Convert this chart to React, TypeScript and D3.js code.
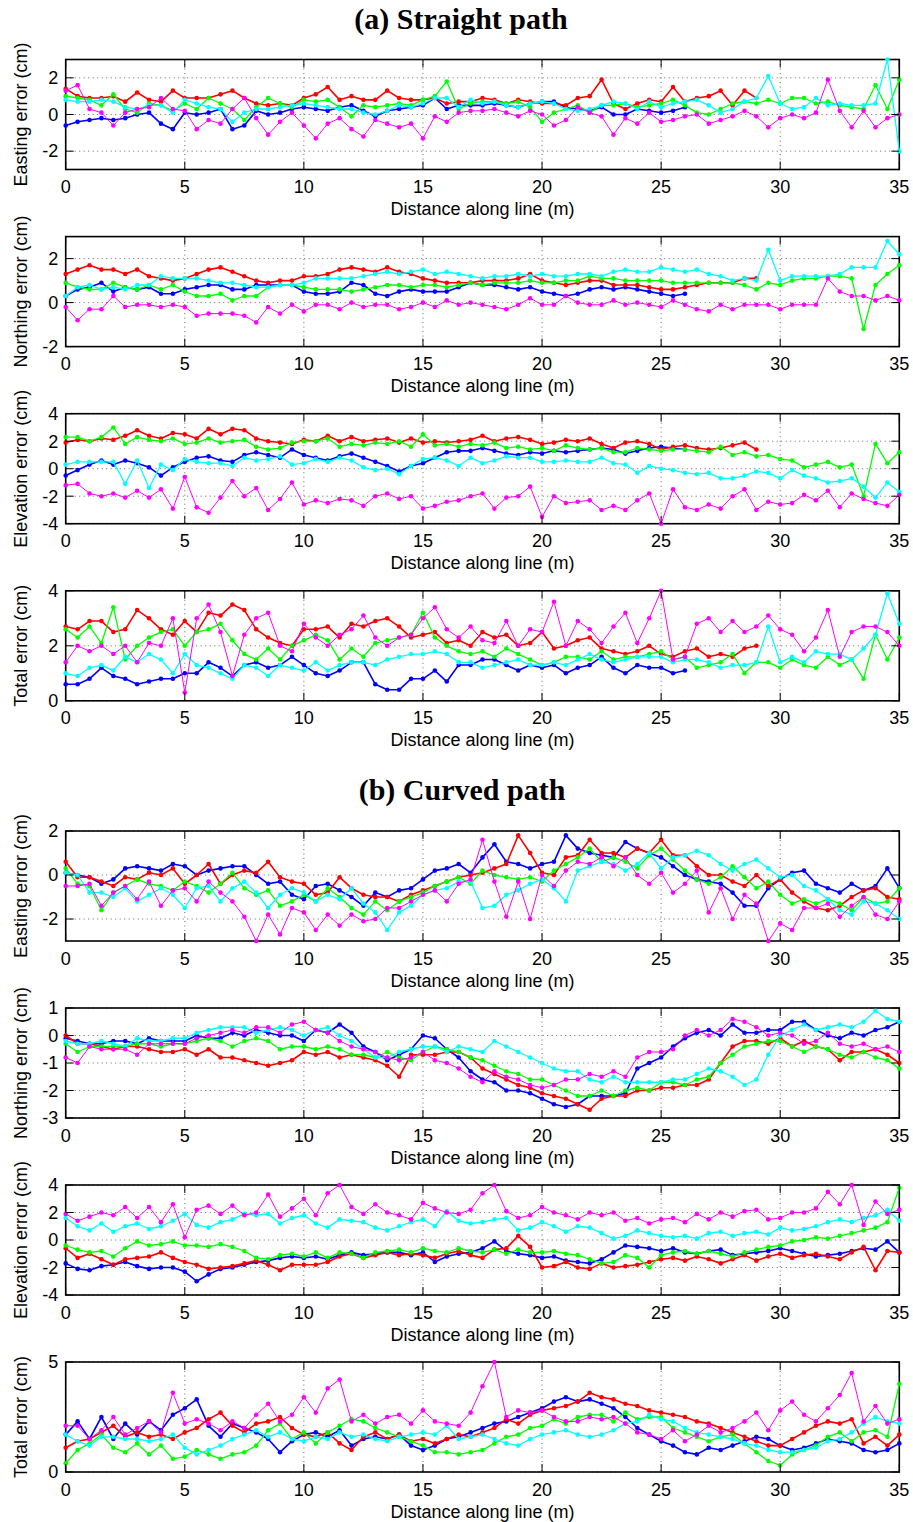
import React from "react";
import * as d3 from "d3";

// ---------- shared axis data ----------
const distanceTicks = [0, 5, 10, 15, 20, 25, 30, 35];
const SAMPLE_STEP = 0.5; // metres between samples
const xLabelText = "Distance along line (m)";
const titleA = "(a) Straight path";
const titleB = "(b) Curved path";

// ---------- (a) Straight path ----------
// Easting
const aEastBlue = [-0.6, -0.4, -0.3, -0.2, -0.3, -0.2, 0.0, 0.1, -0.5, -0.8,
  0.1, 0.0, 0.1, 0.3, -0.8, -0.6, 0.2, 0.0, 0.1, 0.3,
  0.4, 0.3, 0.2, 0.4, 0.5, 0.2, -0.1, 0.2, 0.3, 0.4,
  0.5, 0.9, 0.3, 0.5, 0.5, 0.5, 0.6, 0.5, 0.4, 0.6,
  0.7, 0.7, 0.4, 0.3, 0.2, 0.4, 0.0, 0.0, 0.3, 0.2,
  0.1, 0.2, 0.4];
const aEastRed = [1.4, 1.0, 0.9, 0.9, 1.0, 0.7, 1.2, 0.8, 0.7, 1.3,
  0.9, 0.9, 0.9, 1.1, 1.3, 0.9, 0.6, 0.5, 0.6, 0.5,
  0.9, 1.1, 1.5, 0.8, 1.0, 0.8, 0.8, 1.3, 0.9, 0.8,
  0.8, 0.9, 0.6, 0.7, 0.7, 0.9, 0.8, 0.6, 0.8, 0.7,
  0.6, 0.6, 0.5, 0.9, 1.0, 1.9, 0.6, 0.3, 0.6, 0.8,
  0.7, 1.5, 0.7, 0.9, 1.0, 1.3, 0.5, 1.3, 0.9];
const aEastGreen = [1.0, 0.9, 0.8, 0.5, 1.1, 0.3, 0.1, 0.6, 0.5, 0.2,
  0.6, 0.3, 0.9, 0.6, 0.3, -0.3, 0.4, 0.9, 0.6, 0.4,
  0.8, 0.7, 0.8, 0.4, -0.1, 0.5, 0.4, 0.5, 0.6, 0.5,
  0.8, 1.0, 1.8, 0.3, 0.6, 0.7, 0.7, 0.6, 0.7, 0.4,
  -0.4, 0.1, 0.3, 0.5, 0.1, 0.5, 0.5, 0.6, 0.4, 0.5,
  0.6, 0.8, 0.5, 0.1, 0.0, 0.3, 0.6, 0.7, 0.6, 0.8,
  0.6, 0.9, 0.9, 0.6, 0.7, 0.5, 0.4, 0.3, 1.6, 0.3,
  1.9];
const aEastCyan = [0.8, 0.7, 0.7, 0.8, 0.7, 0.4, 0.3, 0.5, 0.5, 0.1,
  0.8, 0.6, 0.4, 0.3, -0.4, 0.1, 0.3, 0.3, 0.4, 0.5,
  0.6, 0.5, 0.4, 0.3, 0.3, 0.1, 0.0, 0.2, 0.5, 0.4,
  0.6, 0.9, 0.9, 0.4, 0.8, 0.6, 0.7, 0.5, 0.4, 0.6,
  0.7, 0.6, 0.3, 0.2, 0.3, 0.5, 0.7, 0.6, 0.3, 0.7,
  0.4, 0.6, 0.7, 0.8, 0.5, 0.1, 0.3, 0.7, 0.9, 2.1,
  0.6, 0.3, 0.4, 0.9, 0.5, 0.6, 0.5, 0.5, 0.6, 3.0,
  -2.0];
const aEastMagenta = [1.3, 1.6, 0.3, 0.1, -0.6, 0.1, 0.3, 0.4, 0.9, 0.3,
  0.2, -0.8, -0.3, -0.5, 0.3, 0.9, -0.2, -1.1, -0.4, 0.1,
  -0.6, -1.3, -0.5, -0.2, -0.8, -1.2, -0.3, -0.5, -0.7, -0.5,
  -1.3, -0.1, -0.4, 0.1, 0.2, 0.2, 0.3, 0.1, -0.1, 0.2,
  0.0, -0.6, -0.3, 0.4, 0.1, -0.1, -1.1, -0.2, -0.5, 0.1,
  -0.4, -0.3, -0.1, 0.0, -0.5, -0.3, -0.1, 0.2, -0.1, -0.7,
  -0.2, 0.0, -0.2, 0.1, 1.9, 0.2, -0.7, 0.2, -0.7, -0.2,
  0.0];

// Northing
const aNorthBlue = [0.3, 0.6, 0.7, 0.9, 0.5, 0.7, 0.6, 0.7, 0.4, 0.4,
  0.6, 0.7, 0.8, 0.8, 0.6, 0.6, 0.8, 0.8, 0.8, 0.8,
  0.5, 0.4, 0.4, 0.5, 0.9, 0.8, 0.4, 0.3, 0.5, 0.6,
  0.5, 0.5, 0.5, 0.7, 0.9, 0.8, 0.8, 0.7, 0.6, 0.7,
  0.5, 0.4, 0.3, 0.4, 0.6, 0.7, 0.6, 0.7, 0.6, 0.5,
  0.4, 0.3, 0.4];
const aNorthRed = [1.3, 1.5, 1.7, 1.5, 1.5, 1.3, 1.5, 1.2, 1.1, 1.0,
  1.1, 1.3, 1.5, 1.6, 1.4, 1.2, 1.0, 0.9, 1.0, 1.0,
  1.2, 1.2, 1.3, 1.5, 1.6, 1.5, 1.4, 1.6, 1.4, 1.3,
  1.1, 1.0, 0.9, 0.9, 0.9, 1.0, 1.0, 1.0, 1.1, 1.3,
  1.0, 0.9, 0.8, 0.9, 1.0, 1.0, 0.8, 0.8, 0.8, 0.7,
  0.6, 0.6, 0.7, 0.8, 0.9, 0.9, 0.9, 1.1, 1.1];
const aNorthGreen = [0.9, 0.7, 0.6, 0.6, 0.9, 0.7, 0.6, 0.8, 0.6, 0.8,
  0.5, 0.3, 0.3, 0.4, 0.1, 0.3, 0.3, 0.7, 0.8, 0.8,
  0.7, 0.6, 0.6, 0.6, 0.5, 0.6, 0.7, 0.8, 0.8, 0.7,
  0.8, 0.8, 0.7, 0.8, 0.9, 0.8, 0.9, 0.9, 0.9, 1.0,
  0.9, 0.9, 1.0, 1.0, 1.2, 1.1, 1.1, 1.0, 1.0, 1.0,
  1.0, 0.9, 0.9, 0.9, 0.9, 0.9, 0.9, 0.8, 0.6, 0.9,
  0.8, 1.0, 1.1, 1.1, 1.2, 1.2, 1.1, -1.2, 0.8, 1.3,
  1.7];
const aNorthCyan = [0.3, 0.7, 0.8, 0.6, 0.7, 0.6, 0.8, 0.8, 1.2, 1.1,
  1.1, 1.1, 1.0, 0.9, 0.9, 0.8, 0.7, 0.7, 0.8, 0.8,
  0.9, 1.1, 1.1, 1.1, 1.1, 1.2, 1.3, 1.4, 1.3, 1.4,
  1.5, 1.3, 1.4, 1.3, 1.2, 1.1, 1.2, 1.2, 1.3, 1.2,
  1.3, 1.2, 1.2, 1.3, 1.3, 1.2, 1.4, 1.5, 1.4, 1.4,
  1.6, 1.5, 1.4, 1.5, 1.3, 1.2, 1.0, 1.1, 1.0, 2.4,
  1.0, 1.2, 1.2, 1.2, 1.2, 1.3, 1.6, 1.6, 1.6, 2.8,
  2.2];
const aNorthMagenta = [-0.2, -0.8, -0.3, -0.3, 0.3, -0.2, -0.1, -0.1, -0.2, -0.1,
  -0.2, -0.6, -0.5, -0.5, -0.5, -0.6, -0.9, -0.2, -0.5, -0.1,
  -0.4, -0.1, -0.1, -0.3, 0.0, -0.2, -0.1, -0.1, -0.3, -0.2,
  0.0, -0.2, 0.1, -0.1, 0.0, -0.1, -0.2, -0.3, -0.1, 0.2,
  -0.1, -0.1, 0.3, 0.0, -0.1, -0.1, 0.1, -0.1, 0.0, -0.1,
  -0.2, 0.1, -0.1, -0.3, -0.4, -0.1, -0.3, -0.1, -0.1, -0.1,
  -0.3, -0.1, -0.1, -0.1, 1.1, 0.5, 0.3, 0.3, 0.1, 0.3,
  0.1];

// Elevation
const aElevBlue = [-0.5, -0.1, 0.3, 0.6, 0.3, 0.6, 0.4, 0.1, -0.5, 0.1,
  0.5, 0.8, 0.9, 0.6, 0.5, 1.0, 1.2, 1.0, 0.8, 1.4,
  1.0, 0.8, 0.6, 0.9, 1.1, 0.8, 0.5, 0.2, -0.2, 0.2,
  0.4, 0.8, 1.2, 1.3, 1.3, 1.5, 1.3, 1.1, 1.0, 1.2,
  1.1, 1.3, 1.2, 1.3, 1.4, 1.5, 1.4, 1.1, 1.3, 1.5,
  1.6, 1.5, 1.4];
const aElevRed = [1.9, 2.1, 2.0, 2.2, 2.1, 2.4, 2.8, 2.4, 2.2, 2.6,
  2.5, 2.2, 2.9, 2.5, 2.9, 2.8, 2.2, 2.0, 1.9, 1.8,
  2.1, 2.0, 2.4, 2.0, 2.3, 2.0, 2.1, 2.2, 1.9, 2.2,
  1.9, 2.0, 1.9, 2.0, 2.1, 2.4, 2.0, 2.2, 2.3, 2.1,
  1.8, 1.9, 2.1, 2.0, 2.2, 1.8, 1.5, 1.9, 2.0, 1.8,
  1.4, 1.6, 1.7, 1.5, 1.4, 1.5, 1.7, 1.9, 1.4];
const aElevGreen = [2.3, 2.3, 2.0, 2.3, 3.0, 1.8, 2.3, 2.1, 2.0, 2.2,
  1.8, 1.9, 2.2, 1.9, 2.0, 2.1, 1.6, 1.4, 1.5, 1.9,
  2.0, 2.0, 2.2, 1.6, 1.8, 1.7, 1.9, 1.8, 2.0, 1.6,
  2.5, 1.7, 1.8, 1.6, 1.8, 1.7, 1.9, 1.5, 1.6, 1.4,
  1.5, 1.3, 1.7, 1.5, 1.4, 1.5, 1.2, 1.2, 1.5, 1.4,
  1.3, 1.4, 1.4, 1.3, 1.2, 1.6, 1.0, 1.2, 0.9, 1.0,
  0.7, 0.6, 0.1, 0.3, 0.5, 0.1, 0.3, -2.0, 1.8, 0.4,
  1.2];
const aElevCyan = [0.3, 0.5, 0.5, 0.5, 0.5, -1.1, 0.6, -1.4, 0.3, -0.1,
  0.7, 0.5, 0.4, 0.4, 0.2, 0.8, 0.6, 0.7, 0.9, 0.3,
  0.4, 0.7, 0.5, 0.8, 0.6, 0.1, -0.1, 0.0, -0.4, 0.2,
  0.7, 0.8, 0.6, 0.2, 0.8, 0.4, 0.6, 0.9, 0.8, 0.8,
  0.5, 0.5, 0.6, 0.5, 0.5, 0.8, 0.4, 0.3, -0.3, 0.2,
  0.0, -0.1, -0.3, -0.4, -0.3, -0.7, -0.7, -0.5, -0.2, -0.3,
  -0.7, -0.1, -0.5, -0.7, -1.0, -0.9, -0.7, -1.3, -2.1, -1.0,
  -1.7];
const aElevMagenta = [-1.2, -1.1, -1.8, -2.0, -1.8, -2.1, -1.6, -2.1, -1.5, -2.9,
  -0.6, -2.8, -3.2, -2.1, -0.9, -2.0, -1.4, -3.0, -2.2, -1.0,
  -2.6, -2.3, -2.5, -2.2, -2.3, -2.7, -2.0, -1.8, -2.2, -2.0,
  -2.9, -2.7, -2.4, -2.3, -2.0, -1.8, -2.9, -2.1, -2.0, -1.3,
  -3.5, -2.0, -2.5, -2.4, -2.3, -3.0, -2.7, -3.0, -2.3, -1.8,
  -4.0, -1.5, -2.8, -3.0, -2.6, -2.9, -2.0, -1.5, -3.0, -2.4,
  -2.6, -2.5, -1.9, -2.3, -1.6, -2.8, -1.8, -2.2, -2.5, -2.7,
  -1.9];

// Total
const aTotBlue = [0.6, 0.6, 0.8, 1.2, 0.9, 0.8, 0.6, 0.7, 0.8, 0.8,
  1.0, 1.0, 1.4, 1.2, 0.9, 1.3, 1.4, 1.2, 1.3, 1.6,
  1.3, 1.0, 0.9, 1.1, 1.4, 1.4, 0.6, 0.4, 0.4, 0.8,
  0.8, 1.1, 0.7, 1.3, 1.3, 1.5, 1.5, 1.3, 1.1, 1.3,
  1.2, 1.3, 1.0, 1.2, 1.3, 1.6, 1.2, 1.0, 1.3, 1.2,
  1.2, 1.0, 1.1];
const aTotRed = [2.7, 2.6, 2.9, 2.9, 2.5, 2.6, 3.3, 3.0, 2.6, 2.4,
  2.9, 2.5, 3.2, 3.1, 3.5, 3.3, 2.6, 2.3, 2.1, 2.0,
  2.6, 2.6, 2.7, 2.3, 2.8, 2.7, 2.9, 3.0, 2.7, 2.3,
  2.4, 2.5, 2.1, 2.2, 2.0, 2.5, 2.3, 2.4, 2.0, 2.1,
  2.5, 1.9, 2.0, 2.2, 2.3, 1.9, 1.8, 1.7, 1.8, 2.0,
  1.7, 1.6, 1.8, 1.9, 1.6, 1.7, 1.6, 1.9, 2.0];
const aTotGreen = [2.6, 2.3, 2.7, 2.1, 3.4, 1.5, 2.0, 2.3, 2.5, 2.6,
  2.0, 2.5, 2.6, 2.8, 2.2, 1.7, 1.5, 1.9, 1.5, 2.0,
  2.2, 2.4, 2.2, 1.5, 1.9, 1.6, 2.1, 2.2, 2.3, 2.4,
  3.2, 2.3, 2.0, 1.8, 1.7, 1.8, 1.6, 1.9, 1.7, 1.5,
  1.3, 1.4, 1.6, 1.6, 1.5, 1.8, 1.5, 1.6, 1.6, 1.7,
  1.8, 1.5, 1.6, 1.2, 1.3, 1.4, 1.7, 1.0, 1.4, 1.4,
  1.2, 1.5, 1.3, 1.2, 1.6, 1.3, 1.5, 0.8, 2.4, 1.5,
  2.3];
const aTotCyan = [1.0, 0.9, 1.2, 1.3, 1.1, 1.6, 1.4, 1.7, 1.5, 1.0,
  1.7, 1.3, 1.2, 1.0, 0.8, 1.3, 1.2, 0.9, 1.3, 1.2,
  1.1, 1.4, 1.1, 1.3, 1.4, 1.4, 1.3, 1.5, 1.6, 1.7,
  1.7, 1.8, 1.7, 1.4, 1.4, 1.2, 1.3, 1.4, 1.5, 1.3,
  1.3, 1.4, 1.3, 1.5, 1.7, 1.5, 1.4, 1.5, 1.6, 1.6,
  1.6, 1.4, 1.5, 1.5, 1.4, 1.2, 1.3, 1.3, 1.4, 2.7,
  1.4, 1.6, 1.4, 1.8, 1.7, 1.7, 1.5, 1.9, 2.4, 3.9,
  2.8];
const aTotMagenta = [1.4, 2.0, 1.8, 2.0, 1.7, 2.0, 1.4, 2.1, 2.0, 3.0,
  0.3, 3.0, 3.5, 2.5, 0.9, 2.4, 3.0, 3.2, 2.0, 1.8,
  2.8, 2.3, 2.0, 2.4, 2.6, 3.1, 2.3, 2.0, 2.3, 2.4,
  3.0, 3.4, 2.6, 2.3, 2.7, 2.2, 2.1, 2.9, 2.0, 2.6,
  2.5, 3.6, 2.0, 2.9, 2.6, 2.1, 2.7, 3.2, 2.1, 3.0,
  4.0, 1.5, 1.6, 2.8, 3.0, 2.5, 2.9, 2.5, 2.7, 3.1,
  2.6, 2.4, 1.8, 2.3, 3.3, 1.6, 2.5, 2.7, 2.7, 2.5,
  2.0];

// ---------- (b) Curved path ----------
// Easting
const bEastBlue = [0.1, 0.0, -0.1, -0.4, -0.2, 0.3, 0.4, 0.3, 0.2, 0.5,
  0.4, 0.0, 0.2, 0.3, 0.4, 0.4, 0.0, -0.4, -0.3, -0.9,
  -1.1, -0.5, -0.4, -0.7, -1.0, -1.4, -0.8, -1.0, -0.7, -0.6,
  -0.2, 0.2, 0.3, 0.5, 0.1, 0.8, 1.4, 0.6, 0.5, 0.3,
  0.5, 0.6, 1.8, 1.2, 1.0, 0.9, 0.8, 1.5, 1.2, 1.0,
  0.8, 0.4, 0.0, -0.2, -0.3, -0.4, -0.8, -1.4, -1.4, -0.6,
  -0.2, 0.1, 0.2, -0.4, -0.6, -0.8, -0.4, -0.7, -0.5, 0.3,
  -0.6];
const bEastRed = [0.6, -0.1, -0.1, -0.3, -0.5, -0.1, -0.2, 0.1, 0.0, 0.3,
  -0.4, 0.0, 0.5, -0.4, 0.0, 0.2, 0.1, 0.6, -0.1, -0.3,
  -0.4, -0.9, -0.8, -0.1, -0.6, -0.9, -1.0, -1.0, -1.2, -0.9,
  -0.7, -0.5, -0.3, -0.1, 0.0, 0.1, 0.3, 0.5, 1.8, 1.0,
  0.1, 0.0, 0.8, 0.9, 1.6, 1.0, 1.0, 0.8, 1.2, 1.0,
  1.6, 0.9, 0.9, 0.4, 0.0, 0.0, -0.3, -0.5, 0.0, -0.5,
  -0.2, -0.8, -1.2, -1.5, -1.6, -1.4, -1.0, -0.7, -0.6, -1.0,
  -1.1];
const bEastGreen = [0.3, -0.4, -0.5, -1.6, -0.8, -0.5, -0.2, -0.4, -0.5, -0.7,
  -0.3, -0.5, -0.8, -0.4, 0.1, -0.6, -0.9, -0.7, -1.4, -1.2,
  -0.9, -1.2, -0.6, -1.0, -1.5, -1.8, -1.2, -1.6, -1.2, -1.0,
  -0.8, -0.5, -0.3, -0.1, -0.4, 0.2, 0.0, -0.1, -0.2, -0.1,
  -0.3, 0.2, 0.5, 0.8, 1.2, 0.6, 0.8, 0.6, 0.3, 0.9,
  1.2, 0.7, 0.2, -0.2, -0.4, -0.1, 0.4, -0.1, -0.6, -0.3,
  -0.9, -1.3, -1.1, -1.3, -1.1, -1.3, -1.6, -1.0, -1.3, -1.2,
  -0.6];
const bEastCyan = [0.1, 0.0, -0.8, -0.8, -1.0, -0.6, -1.2, -0.9, -0.6, -0.9,
  -1.5, -0.6, -0.5, -1.2, -0.6, -0.3, -0.8, -1.5, -0.9, -0.6,
  -0.8, -1.2, -0.9, -1.1, -0.6, -1.3, -1.7, -2.5, -1.7, -1.4,
  -0.9, -0.7, -0.6, -0.3, -0.3, -1.5, -1.4, -0.9, -0.7, -0.4,
  -0.2, -0.6, -1.2, 0.2, 0.4, 0.6, 0.5, 0.2, 0.5, 1.0,
  0.3, 0.8, 0.9, 1.1, 0.9, 0.5, 0.2, 0.5, 0.7, 0.3,
  -0.1, 0.0, -0.5, -0.7, -1.1, -1.6, -1.8, -1.2, -1.3, -1.6,
  -2.0];
const bEastMagenta = [-0.5, -0.5, -0.4, -1.4, -0.8, -0.5, -1.1, -0.3, -1.4, -0.7,
  -0.6, -1.2, -0.3, -0.8, -1.2, -1.9, -3.0, -1.8, -2.7, -1.5,
  -1.7, -2.5, -1.8, -2.3, -1.8, -2.1, -2.0, -1.5, -1.5, -1.2,
  -0.9, -0.7, -1.2, -0.4, -0.2, 1.6, -0.3, -1.9, -0.3, -2.0,
  0.0, -0.5, 0.2, 0.6, 0.5, 0.8, 0.4, 0.8, 0.0, -0.4,
  0.1, -0.8, -0.4, 0.2, -1.7, -0.6, -2.0, -0.9, -1.3, -3.0,
  -2.2, -2.5, -1.5, -1.5, -1.3, -1.9, -1.4, -1.0, -1.8, -2.0,
  -1.2];

// Northing
const bNorthBlue = [-0.1, -0.2, -0.3, -0.3, -0.2, -0.2, -0.3, -0.1, -0.2, -0.2,
  -0.2, 0.0, -0.1, -0.1, 0.1, 0.0, 0.2, 0.1, 0.0, 0.0,
  -0.2, 0.2, 0.1, 0.4, 0.1, -0.4, -0.6, -0.9, -0.7, -0.5,
  0.0, -0.1, -0.5, -0.8, -1.3, -1.6, -1.7, -2.0, -2.0, -2.1,
  -2.3, -2.5, -2.6, -2.5, -2.2, -2.2, -2.2, -2.1, -1.2, -1.0,
  -0.8, -0.4, -0.1, 0.1, 0.2, 0.0, 0.4, 0.1, 0.1, 0.2,
  0.2, 0.5, 0.5, 0.2, 0.0, -0.1, 0.1, 0.0, 0.2, 0.3,
  0.5];
const bNorthRed = [0.0, -0.3, -0.3, -0.4, -0.5, -0.4, -0.4, -0.5, -0.6, -0.6,
  -0.5, -0.7, -0.5, -0.8, -0.8, -0.9, -1.0, -1.1, -1.0, -0.9,
  -0.6, -0.7, -0.6, -0.8, -0.7, -0.8, -0.9, -1.1, -1.5, -0.7,
  -0.7, -0.7, -0.6, -0.6, -0.8, -1.2, -1.4, -1.6, -1.8, -1.9,
  -2.1, -2.2, -2.3, -2.5, -2.7, -2.3, -2.2, -2.2, -2.0, -2.0,
  -1.9, -1.9, -1.8, -1.8, -1.6, -1.0, -0.4, -0.2, -0.2, -0.3,
  -0.1, -0.4, -0.2, -0.4, -0.5, -0.9, -0.6, -0.6, -0.5, -0.7,
  -1.0];
const bNorthGreen = [-0.3, -0.6, -0.4, -0.4, -0.4, -0.4, -0.3, -0.3, -0.4, -0.3,
  -0.3, -0.2, -0.1, -0.2, -0.4, -0.2, -0.1, -0.2, -0.5, -0.4,
  -0.4, -0.5, -0.4, -0.5, -0.7, -0.7, -0.8, -0.6, -0.8, -0.9,
  -0.6, -0.4, -0.5, -0.6, -0.8, -0.9, -1.1, -1.3, -1.4, -1.6,
  -1.6, -1.8, -2.0, -2.2, -2.2, -2.0, -2.2, -2.0, -1.9, -2.0,
  -1.7, -1.7, -1.8, -1.6, -1.5, -1.0, -0.7, -0.4, -0.3, -0.2,
  -0.2, -0.4, -0.6, -0.4, -0.5, -0.7, -0.8, -0.6, -0.8, -0.9,
  -1.2];
const bNorthCyan = [-0.2, -0.3, -0.3, -0.2, -0.3, -0.4, -0.1, -0.2, -0.2, -0.1,
  -0.1, 0.1, 0.2, 0.3, 0.3, 0.3, 0.1, 0.2, 0.3, 0.2,
  0.0, 0.2, 0.3, 0.0, -0.2, -0.5, -0.8, -0.8, -0.6, -0.5,
  -0.4, -0.4, -0.6, -0.4, -0.5, -0.6, -0.2, -0.4, -0.6, -0.8,
  -1.0, -1.2, -1.3, -1.3, -1.6, -1.7, -1.5, -1.7, -1.7, -1.7,
  -1.7, -1.6, -1.6, -1.4, -1.2, -1.3, -1.5, -1.8, -1.6, -0.7,
  0.0, 0.2, 0.4, 0.2, 0.3, 0.4, 0.3, 0.5, 0.9, 0.6,
  0.5];
const bNorthMagenta = [-0.8, -1.0, -0.4, -0.5, -0.5, -0.5, -0.7, -0.3, -0.3, -0.3,
  -0.3, -0.1, 0.0, 0.1, 0.2, 0.1, 0.3, 0.3, 0.1, 0.4,
  0.5, 0.2, 0.1, -0.2, -0.4, -0.5, -0.6, -0.8, -0.9, -0.8,
  -0.6, -0.9, -1.0, -1.2, -1.5, -1.7, -1.3, -1.5, -1.6, -1.8,
  -1.9, -1.8, -1.6, -1.6, -1.4, -1.5, -1.3, -1.5, -0.8, -0.6,
  -0.6, -0.5, 0.0, 0.2, 0.0, 0.2, 0.6, 0.5, 0.3, 0.0,
  0.1, 0.0, -0.3, -0.2, 0.1, -0.3, -0.4, -0.3, -0.5, -0.4,
  -0.6];

// Elevation
const bElevBlue = [-1.7, -2.1, -2.2, -1.9, -1.8, -1.6, -1.9, -2.1, -2.0, -2.0,
  -2.3, -3.0, -2.5, -2.1, -2.0, -1.8, -1.6, -1.5, -1.3, -1.2,
  -1.3, -1.2, -1.4, -1.1, -0.9, -1.1, -1.0, -0.9, -0.9, -1.1,
  -0.9, -1.6, -1.2, -1.0, -0.9, -0.6, -0.1, -0.8, -1.0, -1.1,
  -1.3, -1.2, -1.5, -1.6, -1.7, -1.4, -0.9, -0.4, -0.5, -0.6,
  -0.8, -0.6, -0.9, -1.0, -0.8, -0.7, -1.1, -1.0, -0.9, -0.8,
  -0.6, -0.8, -1.0, -1.2, -1.1, -1.0, -0.8, -0.6, -0.7, -0.1,
  -0.9];
const bElevRed = [-0.6, -1.3, -1.0, -1.4, -1.8, -1.4, -1.3, -1.2, -0.9, -1.3,
  -1.6, -1.8, -2.1, -2.0, -1.9, -1.7, -1.5, -1.8, -2.2, -1.8,
  -1.8, -1.8, -1.6, -1.2, -1.0, -1.3, -1.1, -0.9, -1.1, -1.0,
  -1.1, -1.3, -1.0, -0.8, -1.1, -1.3, -0.7, -0.6, 0.3, -0.5,
  -2.0, -1.9, -1.6, -2.0, -2.1, -1.7, -2.0, -1.9, -1.8, -1.6,
  -1.4, -1.3, -1.5, -1.2, -1.4, -1.7, -1.4, -1.1, -1.5, -1.2,
  -1.0, -1.3, -1.1, -1.0, -1.2, -1.4, -0.9, -0.5, -2.2, -0.8,
  -0.9];
const bElevGreen = [-0.4, -0.7, -0.9, -0.8, -1.2, -0.6, -0.1, -0.4, -0.3, -0.1,
  -0.4, -0.4, -0.5, -0.3, -0.5, -0.8, -1.3, -1.4, -1.1, -1.0,
  -1.2, -0.9, -1.3, -0.9, -1.0, -1.3, -0.9, -0.8, -0.7, -0.9,
  -0.6, -0.8, -0.9, -0.6, -0.8, -0.9, -0.7, -1.0, -0.7, -0.9,
  -0.9, -0.8, -1.0, -1.1, -1.4, -1.7, -1.6, -1.1, -1.3, -2.0,
  -1.1, -0.9, -0.8, -1.0, -0.8, -1.0, -1.2, -0.9, -0.7, -0.5,
  -0.4, -0.1, 0.0, 0.2, 0.1, 0.3, 0.5, 0.7, 0.9, 1.3,
  3.8];
const bElevCyan = [1.6, 1.0, 0.7, 1.2, 0.6, 1.0, 1.2, 0.8, 1.0, 1.4,
  1.9, 1.1, 0.9, 1.3, 1.5, 1.9, 1.8, 1.9, 1.2, 1.6,
  1.8, 1.2, 0.9, 1.5, 1.4, 1.3, 0.9, 0.7, 1.0, 1.3,
  1.5, 1.0, 2.1, 1.4, 1.2, 1.3, 1.5, 1.6, 0.7, 0.9,
  1.3, 1.0, 0.6, 1.0, 0.9, 0.5, 0.1, 0.3, 0.7, 0.5,
  0.3, 0.2, 0.3, 0.1, 0.5, 0.6, 0.3, 0.5, 0.6, 0.4,
  0.9, 0.7, 0.8, 1.0, 1.3, 1.5, 1.3, 1.6, 1.8, 2.2,
  1.4];
const bElevMagenta = [1.9, 1.4, 1.7, 2.0, 1.8, 2.4, 1.6, 2.4, 1.3, 2.6,
  0.2, 2.2, 2.5, 1.9, 2.5, 1.8, 2.0, 3.3, 1.7, 2.3,
  3.0, 1.8, 3.4, 4.0, 2.4, 1.9, 2.6, 2.0, 1.8, 1.5,
  2.7, 2.3, 2.0, 1.9, 2.2, 3.4, 4.0, 2.1, 1.6, 1.8,
  2.4, 2.0, 1.8, 1.5, 2.0, 1.8, 2.0, 1.4, 1.6, 1.2,
  1.5, 1.6, 1.3, 1.9, 1.5, 2.0, 1.7, 2.1, 2.2, 1.5,
  1.6, 2.0, 2.0, 2.3, 3.5, 2.6, 4.0, 1.1, 2.8, 1.9,
  2.2];

// Total
const bTotBlue = [1.7, 2.3, 1.5, 2.5, 1.5, 2.2, 1.7, 2.3, 1.9, 2.6,
  2.9, 3.3, 2.1, 1.6, 2.2, 2.0, 1.8, 1.5, 0.9, 1.4,
  1.7, 1.8, 1.6, 1.9, 1.2, 1.5, 1.6, 1.5, 1.7, 1.2,
  1.0, 1.2, 1.5, 1.6, 1.8, 2.0, 2.2, 2.3, 2.5, 2.7,
  2.9, 3.2, 3.4, 3.2, 3.3, 3.1, 2.9, 2.5, 2.0, 1.7,
  1.4, 1.2, 0.9, 0.8, 1.1, 1.0, 1.2, 1.4, 1.6, 1.5,
  1.2, 1.0, 1.1, 1.3, 1.5, 1.4, 1.3, 1.0, 0.9, 1.0,
  1.3];
const bTotRed = [1.1, 1.4, 1.5, 1.8, 2.1, 1.6, 1.8, 1.6, 1.7, 1.5,
  1.8, 2.0, 2.4, 2.7, 2.1, 1.8, 2.2, 2.3, 2.5, 2.0,
  1.7, 1.6, 1.8, 1.3, 1.0, 1.6, 1.8, 1.5, 1.7, 1.4,
  1.5, 1.3, 1.5, 1.7, 1.6, 1.8, 2.0, 2.4, 2.2, 2.6,
  2.8, 2.9, 3.0, 3.2, 3.6, 3.4, 3.3, 3.1, 3.0, 2.8,
  2.7, 2.6, 2.5, 2.3, 2.2, 2.0, 1.8, 1.6, 1.4, 1.2,
  1.2, 1.5, 1.8, 2.1, 2.3, 2.2, 2.4, 1.3, 1.6, 1.2,
  1.7];
const bTotGreen = [0.4, 1.0, 1.3, 1.7, 1.1, 0.9, 1.3, 0.8, 1.2, 0.6,
  0.7, 1.0, 0.8, 0.6, 0.8, 0.9, 1.2, 1.9, 2.2, 1.5,
  1.8, 1.3, 1.8, 2.1, 2.4, 2.3, 2.0, 1.8, 1.6, 1.4,
  1.2, 0.9, 0.9, 0.8, 0.9, 1.0, 1.3, 1.6, 1.7, 2.0,
  2.1, 2.4, 2.2, 2.5, 2.6, 2.6, 2.3, 2.7, 2.4, 2.5,
  2.5, 2.0, 1.8, 1.6, 1.4, 1.6, 1.7, 1.3, 0.9, 0.5,
  0.3, 0.8, 1.0, 1.2, 1.6, 1.8, 1.4, 1.8, 1.9, 1.6,
  4.0];
const bTotCyan = [1.7, 1.4, 1.2, 1.6, 1.6, 1.5, 1.5, 1.4, 1.5, 1.7,
  1.1, 0.8, 1.0, 1.2, 1.5, 1.7, 1.9, 1.6, 1.8, 1.5,
  1.4, 1.6, 1.5, 1.8, 1.6, 1.7, 1.5, 1.4, 1.6, 1.7,
  1.8, 1.7, 2.1, 1.5, 1.6, 1.7, 1.5, 1.3, 1.2, 1.5,
  1.7, 1.8, 1.9, 1.7, 1.6, 1.7, 1.9, 2.2, 2.3, 2.6,
  2.4, 2.3, 2.0, 1.8, 1.7, 1.6, 1.5, 1.3, 1.2, 1.0,
  0.9, 0.9, 1.0, 1.1, 1.4, 1.5, 1.8, 2.2, 2.5, 2.3,
  2.2];
const bTotMagenta = [2.1, 2.1, 1.5, 1.9, 2.5, 1.7, 2.0, 2.3, 1.8, 3.6,
  2.2, 2.4, 2.2, 1.9, 2.3, 2.0, 2.6, 3.1, 2.3, 2.6,
  3.4, 2.7, 3.8, 4.2, 2.3, 2.6, 2.2, 2.5, 2.6, 2.2,
  2.8, 2.3, 2.2, 2.1, 2.7, 3.9, 5.0, 2.5, 2.8, 2.7,
  2.8, 2.5, 2.3, 2.3, 2.5, 2.4, 2.5, 2.2, 1.8, 1.7,
  1.5, 1.9, 1.4, 1.7, 2.1, 1.8, 2.0, 2.3, 2.7, 1.9,
  2.8, 3.2, 2.6, 2.3, 2.9, 3.5, 4.5, 2.3, 3.0, 2.2,
  2.4];

// ---------- panel definitions ----------
const BLUE = "#0000ff";
const RED = "#ff0000";
const GREEN = "#00ff00";
const CYAN = "#00ffff";
const MAGENTA = "#ff00ff";

type Series = { color: string; values: number[]; width: number };
type Panel = { label: string; domain: [number, number]; ticks: number[]; series: Series[] };

const mk = (b: number[], r: number[], g: number[], c: number[], m: number[]): Series[] => [
  { color: BLUE, values: b, width: 1.6 },
  { color: RED, values: r, width: 1.6 },
  { color: GREEN, values: g, width: 1.3 },
  { color: CYAN, values: c, width: 1.3 },
  { color: MAGENTA, values: m, width: 1 },
];

const panelsA: Panel[] = [
  { label: "Easting error (cm)", domain: [-3, 3], ticks: [-2, 0, 2], series: mk(aEastBlue, aEastRed, aEastGreen, aEastCyan, aEastMagenta) },
  { label: "Northing error (cm)", domain: [-2, 3], ticks: [-2, 0, 2], series: mk(aNorthBlue, aNorthRed, aNorthGreen, aNorthCyan, aNorthMagenta) },
  { label: "Elevation error (cm)", domain: [-4, 4], ticks: [-4, -2, 0, 2, 4], series: mk(aElevBlue, aElevRed, aElevGreen, aElevCyan, aElevMagenta) },
  { label: "Total error (cm)", domain: [0, 4], ticks: [0, 2, 4], series: mk(aTotBlue, aTotRed, aTotGreen, aTotCyan, aTotMagenta) },
];
const panelsB: Panel[] = [
  { label: "Easting error (cm)", domain: [-3, 2], ticks: [-2, 0, 2], series: mk(bEastBlue, bEastRed, bEastGreen, bEastCyan, bEastMagenta) },
  { label: "Northing error (cm)", domain: [-3, 1], ticks: [-3, -2, -1, 0, 1], series: mk(bNorthBlue, bNorthRed, bNorthGreen, bNorthCyan, bNorthMagenta) },
  { label: "Elevation error (cm)", domain: [-4, 4], ticks: [-4, -2, 0, 2, 4], series: mk(bElevBlue, bElevRed, bElevGreen, bElevCyan, bElevMagenta) },
  { label: "Total error (cm)", domain: [0, 5], ticks: [0, 5], series: mk(bTotBlue, bTotRed, bTotGreen, bTotCyan, bTotMagenta) },
];

// ---------- layout ----------
const W = 913;
const H = 1522;
const PLOT_LEFT = 65.7;
const PLOT_RIGHT = 899.3;
const PLOT_H = 110;
const TOPS_A = [59.5, 236.6, 413.7, 590.8];
const TOPS_B = [831, 1008, 1185, 1362];
const SANS = "'Liberation Sans', Arial, Helvetica, sans-serif";
const SERIF = "'Liberation Serif', 'Times New Roman', Times, serif";
const FONT_SIZE = 18;
const TICK_LEN = 8;

function PanelView({ p, top, id }: { p: Panel; top: number; id: string }) {
  const x = d3.scaleLinear().domain([0, 35]).range([PLOT_LEFT, PLOT_RIGHT]);
  const y = d3.scaleLinear().domain(p.domain).range([top + PLOT_H, top]);
  const line = d3
    .line<[number, number]>()
    .x((d) => x(d[0]))
    .y((d) => y(d[1]));
  const bottom = top + PLOT_H;
  const clipId = `clip-${id}`;
  return (
    <g>
      <defs>
        <clipPath id={clipId}>
          <rect x={PLOT_LEFT - 3} y={top - 3} width={PLOT_RIGHT - PLOT_LEFT + 6} height={PLOT_H + 6} />
        </clipPath>
      </defs>
      {/* grid */}
      <g stroke="#000" strokeWidth={0.8} strokeDasharray="1,3.5" opacity={0.75}>
        {distanceTicks.map((t) => (
          <line key={`gx${t}`} x1={x(t)} x2={x(t)} y1={top} y2={bottom} />
        ))}
        {p.ticks.map((t) => (
          <line key={`gy${t}`} x1={PLOT_LEFT} x2={PLOT_RIGHT} y1={y(t)} y2={y(t)} />
        ))}
      </g>
      {/* box (drawn below data, as in the reference) */}
      <rect x={PLOT_LEFT} y={top} width={PLOT_RIGHT - PLOT_LEFT} height={PLOT_H} fill="none" stroke="#000" strokeWidth={1.6} />
      {/* data */}
      <g clipPath={`url(#${clipId})`}>
        {p.series.map((s, si) => {
          const pts: [number, number][] = s.values.map((v, i) => [i * SAMPLE_STEP, v]);
          return (
            <g key={si}>
              <path d={line(pts) || ""} fill="none" stroke={s.color} strokeWidth={s.width} strokeLinejoin="round" />
              {pts.map((d, i) => (
                <circle key={i} cx={x(d[0])} cy={y(d[1])} r={2.3} fill={s.color} />
              ))}
            </g>
          );
        })}
      </g>
      {/* ticks */}
      <g stroke="#000" strokeWidth={1}>
        {distanceTicks.map((t) => (
          <g key={`tx${t}`}>
            <line x1={x(t)} x2={x(t)} y1={bottom} y2={bottom - TICK_LEN} />
            <line x1={x(t)} x2={x(t)} y1={top} y2={top + TICK_LEN} />
          </g>
        ))}
        {p.ticks.map((t) => (
          <g key={`ty${t}`}>
            <line x1={PLOT_LEFT} x2={PLOT_LEFT + TICK_LEN} y1={y(t)} y2={y(t)} />
            <line x1={PLOT_RIGHT} x2={PLOT_RIGHT - TICK_LEN} y1={y(t)} y2={y(t)} />
          </g>
        ))}
      </g>
      {/* tick labels */}
      <g fontFamily={SANS} fontSize={FONT_SIZE} fill="#000">
        {distanceTicks.map((t) => (
          <text key={`lx${t}`} x={x(t)} y={bottom + 23.5} textAnchor="middle">
            {t}
          </text>
        ))}
        {p.ticks.map((t) => (
          <text key={`ly${t}`} x={PLOT_LEFT - 7.5} y={y(t)} dy="0.35em" textAnchor="end">
            {String(t)}
          </text>
        ))}
        <text x={(PLOT_LEFT + PLOT_RIGHT) / 2} y={bottom + 45.5} textAnchor="middle">
          {xLabelText}
        </text>
        <text transform={`translate(27, ${top + PLOT_H / 2}) rotate(-90)`} textAnchor="middle">
          {p.label}
        </text>
      </g>
    </g>
  );
}

export default function App() {
  return (
    <svg
      width={W}
      height={H}
      viewBox={`0 0 ${W} ${H}`}
      style={{ position: "absolute", left: 0, top: 0, background: "#fff" }}
    >
      <rect x={0} y={0} width={W} height={H} fill="#fff" />
      <text x={461} y={29} textAnchor="middle" fontFamily={SERIF} fontWeight="bold" fontSize={30}>
        {titleA}
      </text>
      {panelsA.map((p, i) => (
        <PanelView key={`a${i}`} p={p} top={TOPS_A[i]} id={`a${i}`} />
      ))}
      <text x={462} y={800} textAnchor="middle" fontFamily={SERIF} fontWeight="bold" fontSize={30}>
        {titleB}
      </text>
      {panelsB.map((p, i) => (
        <PanelView key={`b${i}`} p={p} top={TOPS_B[i]} id={`b${i}`} />
      ))}
    </svg>
  );
}
